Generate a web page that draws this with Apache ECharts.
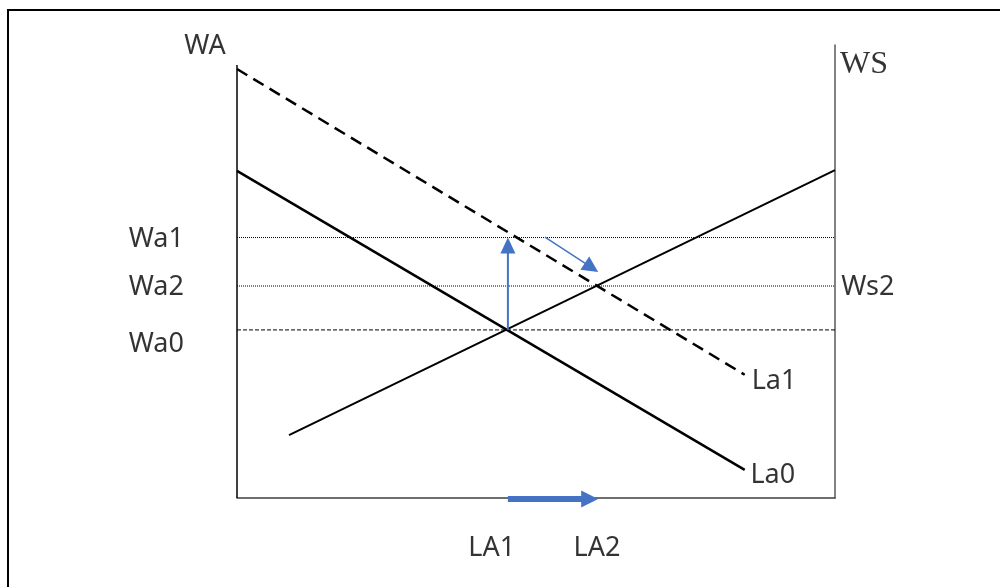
<!DOCTYPE html>
<html>
<head>
<meta charset="utf-8">
<style>
html,body{margin:0;padding:0;background:#fff;}
#chart{width:1000px;height:587px;}
</style>
<script src="https://cdn.jsdelivr.net/npm/echarts@6/dist/echarts.min.js"></script>
</head>
<body>
<div id="chart"></div>
<script>
// ---- data (abstract diagram units: x 0..100, y 0..100) ----
const labourDemandLa1 = [[0, 94.7], [84.9, 27.2]];
const labourDemandLa0 = [[0, 72.2], [84.9, 6.2]];
const labourSupply    = [[8.7, 13.9], [100, 72.4]];
const leftAxisLine    = [[0, 0], [0, 95.6]];
const wageNames  = ['Wa1', 'Wa2', 'Wa0'];
const wageValues = [57.5, 46.8, 37.1];
const arrowWageRise   = [[45.3, 37.1, 45.3, 57.5]];
const arrowShift      = [[51.5, 57.6, 60.4, 49.9]];
const arrowLabour     = [[45.3, -0.2, 60.4, -0.2]];
const labelTexts = ['WA', 'WS', 'Wa1', 'Wa2', 'Wa0', 'Ws2', 'La1', 'La0', 'LA1', 'LA2'];
const labelX     = [-5.35, 104.85, -13.5, -13.5, -13.5, 105.5, 89.8, 89.6, 42.6, 60.2];
const labelY     = [99.6, 95.6, 57.0, 46.6, 34.0, 46.6, 25.8, 5.1, -11.0, -11.0];

const BLUE = '#4472C4';
const SANS = 'Noto Sans';

function arrowRenderer(width, headW, headL, color) {
  return function (params, api) {
    const p1 = api.coord([api.value(0), api.value(1)]);
    const p2 = api.coord([api.value(2), api.value(3)]);
    const dx = p2[0] - p1[0], dy = p2[1] - p1[1];
    const len = Math.hypot(dx, dy);
    const ux = dx / len, uy = dy / len;
    const bx = p2[0] - ux * headL, by = p2[1] - uy * headL;
    const nx = -uy, ny = ux;
    return {
      type: 'group',
      children: [
        { type: 'line', shape: { x1: p1[0], y1: p1[1], x2: bx + ux, y2: by + uy },
          style: { stroke: color, lineWidth: width } },
        { type: 'polygon', shape: { points: [[p2[0], p2[1]],
            [bx + nx * headW / 2, by + ny * headW / 2],
            [bx - nx * headW / 2, by - ny * headW / 2]] },
          style: { fill: color } }
      ]
    };
  };
}

function lineSeries(data, style, z) {
  return { type: 'line', data: data, symbol: 'none', silent: true, animation: false,
           lineStyle: style, z: z || 2, clip: false };
}

const series = [];
// guide lines
wageValues.forEach(function (v, i) {
  const dashed = wageNames[i] === 'Wa0';
  series.push(lineSeries([[0, v], [100, v]],
    { color: '#000', width: 1, type: dashed ? [4, 2] : [1, 1] }, 1));
});
series.push(lineSeries(leftAxisLine, { color: '#000', width: 1.5 }, 3));
series.push(lineSeries(labourDemandLa1, { color: '#000', width: 2.5, type: [12, 7] }, 4));
series.push(lineSeries(labourDemandLa0, { color: '#000', width: 2.5 }, 4));
series.push(lineSeries(labourSupply, { color: '#000', width: 2 }, 4));

function arrowSeries(data, w, hw, hl) {
  return { type: 'custom', data: data, renderItem: arrowRenderer(w, hw, hl, BLUE),
           encode: { x: [0, 2], y: [1, 3] }, clip: false, silent: true, animation: false, z: 6 };
}
series.push(arrowSeries(arrowWageRise, 2, 15, 16));
series.push(arrowSeries(arrowShift, 1.5, 16, 16));
series.push(arrowSeries(arrowLabour, 6, 17, 17));

series.push({
  type: 'scatter', symbolSize: 0, clip: false, silent: true, animation: false, z: 7,
  data: labelTexts.map(function (t, i) {
    const serif = t === 'WS';
    return { name: t, value: [labelX[i], labelY[i]],
      label: { show: true, position: 'inside', formatter: '{b}', color: '#000',
        fontFamily: serif ? 'Liberation Serif' : SANS, fontSize: serif ? 32 : 27 } };
  })
});

const chart = echarts.init(document.getElementById('chart'), null, { renderer: 'canvas' });
chart.setOption({
  backgroundColor: '#fff',
  animation: false,
  grid: { left: 237, right: 165, top: 45, bottom: 89 },
  xAxis: { type: 'value', min: 0, max: 100,
    axisLine: { show: true, onZero: false, lineStyle: { color: '#404040', width: 1.5 } },
    axisTick: { show: false }, axisLabel: { show: false }, splitLine: { show: false } },
  yAxis: { type: 'value', min: 0, max: 100, position: 'right',
    axisLine: { show: true, onZero: false, lineStyle: { color: '#595959', width: 1.5 } },
    axisTick: { show: false }, axisLabel: { show: false }, splitLine: { show: false } },
  graphic: [{ type: 'polyline', shape: { points: [[8, 587], [8, 10], [1000, 10]] },
    style: { stroke: '#000', lineWidth: 2, fill: null }, z: 10 }],
  series: series
});
</script>
</body>
</html>
